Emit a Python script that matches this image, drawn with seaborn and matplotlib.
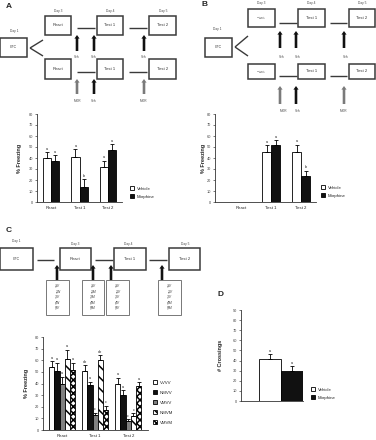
import numpy as np
import pandas as pd
import matplotlib
matplotlib.use("Agg")
import matplotlib.pyplot as plt
import seaborn as sns
from matplotlib.patches import Rectangle, FancyArrow, Patch
from matplotlib.container import BarContainer

# ---------------- data ----------------
cats = ["React", "Test 1", "Test 2"]
drugs = ["Vehicle", "Morphine"]

a_vehicle = [40, 41, 32]
a_vehicle_err = [5, 7, 5.5]
a_vehicle_sig = ["a", "a", "a"]
a_morphine = [37, 14, 47.5]
a_morphine_err = [5.5, 7, 5]
a_morphine_sig = ["a", "b", "a"]

b_vehicle = [np.nan, 45, 45.5]
b_vehicle_err = [0, 6.5, 6.5]
b_vehicle_sig = ["", "a", "a"]
b_morphine = [np.nan, 51.5, 23.5]
b_morphine_err = [0, 4.5, 5]
b_morphine_sig = ["", "a", "b"]

c_groups = ["VVVV", "NMVV", "VMVV", "NMVM", "VMVM"]
c_vvvv = [54, 51, 40]
c_nmvv = [51, 38.5, 30]
c_vmvv = [39.5, 12.5, 7.5]
c_nmvm = [61, 60.5, 12]
c_vmvm = [52, 17.5, 38]
c_vvvv_err = [5, 5, 5]
c_nmvv_err = [7, 3, 4]
c_vmvv_err = [6.5, 2.5, 2]
c_nmvm_err = [8, 4, 2.5]
c_vmvm_err = [6, 3.5, 3]
c_vvvv_sig = ["a", "ab", "a"]
c_nmvv_sig = ["a", "a", "a"]
c_vmvv_sig = ["a", "c", "c"]
c_nmvm_sig = ["a", "ab", "c"]
c_vmvm_sig = ["a", "c", "a"]

d_cats = [""]
d_vehicle = [42]
d_vehicle_err = [4.5]
d_morphine = [29.5]
d_morphine_err = [5]
d_sig = ["a"]

freeze_ticks = list(range(0, 81, 10))
cross_ticks = list(range(0, 91, 10))

# ---------------- setup ----------------
sns.set_theme(style="ticks")
plt.rcParams["font.family"] = ["Liberation Sans", "DejaVu Sans"]
plt.rcParams["hatch.linewidth"] = 1.1

W, H = 376, 440
fig = plt.figure(figsize=(W / 100, H / 100), dpi=100)
fig.patch.set_facecolor("white")

ov = fig.add_axes([0, 0, 1, 1])
ov.set_xlim(0, W)
ov.set_ylim(H, 0)
ov.axis("off")

BOXC = "#3a3a3a"
GRAY_ARROW = "#7a7a7a"


def box(x0, y0, x1, y1, text="", fs=3.0, ec=BOXC, lw=1.1):
    ov.add_patch(Rectangle((x0, y0), x1 - x0, y1 - y0, facecolor="white", edgecolor=ec, lw=lw))
    if text:
        ov.text((x0 + x1) / 2, (y0 + y1) / 2, text, ha="center", va="center", fontsize=fs,
                color="#333", linespacing=1.0)


def line(x0, y0, x1, y1, lw=1.0, color=BOXC):
    ov.plot([x0, x1], [y0, y1], color=color, lw=lw, solid_capstyle="butt")


def arrow(x, ytail, ytip, color="#111"):
    ov.add_patch(FancyArrow(x, ytail, 0, ytip - ytail, width=2.6, head_width=5.2, head_length=3.6,
                            length_includes_head=True, facecolor=color, edgecolor="none", lw=0))


def lab(x, y, s, fs=2.3, **kw):
    ov.text(x, y, s, ha="center", va="center", fontsize=fs, color="#444", **kw)


# ---------------- panel A diagram ----------------
ov.text(9, 6, "A", fontsize=6, fontweight="bold", ha="center", va="center")
lab(14, 31, "Day 1")
box(0, 38, 27, 57, "CFC", fs=2.6)
line(43, 40, 30, 48)
line(30, 48, 43, 56)
for y0, y1 in [(16, 35), (59, 79)]:
    box(45, y0, 71, y1, "React")
    box(97, y0, 123, y1, "Test 1")
    box(149, y0, 176, y1, "Test 2")
    ym = (y0 + y1) / 2 + 3
    line(77, ym, 95, ym)
    line(129, ym, 147, ym)
lab(58, 11, "Day 3")
lab(110, 11, "Day 4")
lab(163, 11, "Day 5")
for x in [77, 94, 144]:
    arrow(x, 51, 35)
    lab(x, 57, "Veh")
arrow(77, 94, 79, GRAY_ARROW)
arrow(94, 94, 79)
arrow(144, 94, 79, GRAY_ARROW)
lab(77, 101, "MOR")
lab(94, 101, "Veh")
lab(144, 101, "MOR")

# ---------------- panel B diagram ----------------
ov.text(205, 5, "B", fontsize=6, fontweight="bold", ha="center", va="center")
lab(217, 29, "Day 1")
box(205, 38, 232, 57, "CFC", fs=2.6)
line(248, 36, 235, 47)
line(235, 47, 248, 56)
for y0, y1, ly in [(9, 27, 23), (64, 79, 76)]:
    box(248, y0, 275, y1, "Without\nReact", fs=1.7)
    box(298, y0, 325, y1, "Test 1")
    box(349, y0, 375, y1, "Test 2")
    line(279, ly, 297, ly)
    line(330, ly, 347, ly)
lab(261, 3, "Day 3")
lab(311, 3, "Day 4")
lab(362, 3, "Day 5")
for x in [280, 296, 344]:
    arrow(x, 48, 31)
    lab(x + 2, 57, "Veh")
arrow(280, 104, 86, GRAY_ARROW)
arrow(296, 104, 86)
arrow(344, 104, 86, GRAY_ARROW)
lab(284, 111, "MOR")
lab(298, 111, "Veh")
lab(344, 111, "MOR")

# ---------------- panel C diagram ----------------
ov.text(9, 231, "C", fontsize=6, fontweight="bold", ha="center", va="center")
lab(16, 241, "Day 1")
box(0, 248, 33, 270, "CFC", fs=2.6)
box(60, 248, 91, 270, "React")
box(114, 248, 146, 270, "Test 1")
box(169, 248, 200, 270, "Test 2")
lab(75, 244, "Day 3")
lab(128, 244, "Day 4")
lab(185, 244, "Day 5")
line(37, 260, 54, 260)
line(95, 260, 113, 260)
line(149, 260, 167, 260)
for x in [57, 93, 111, 162]:
    arrow(x, 281, 265)
c_box_text = [
    (46, 69, ["1)V", "2)N", "3)V", "4)N", "5)V"]),
    (82, 104, ["1)V", "2)M", "3)M", "4)M", "5)M"]),
    (106, 129, ["1)V", "2)V", "3)V", "4)V", "5)V"]),
    (158, 181, ["1)V", "2)V", "3)V", "4)M", "5)M"]),
]
for x0, x1, lines in c_box_text:
    box(x0, 280, x1, 315, ec="#777", lw=0.7)
    for i, s in enumerate(lines):
        ov.text((x0 + x1) / 2, 286 + i * 5.6, s, ha="center", va="center", fontsize=2.3,
                color="#333", style="italic")

ov.text(221, 294, "D", fontsize=6, fontweight="bold", ha="center", va="center")


# ---------------- bar charts ----------------
def px_axes(left, right, top, bottom):
    ax = fig.add_axes([left / W, 1 - bottom / H, (right - left) / W, (bottom - top) / H])
    ax.set_facecolor("none")
    return ax


def bar_panel(ax, categories, groups, values, errs, sigs, colors, hatches, width, xlim, ylim,
              yticks, ylabel, ylabel_x, cat_fs=3.1, sig_fs=2.7):
    rows = []
    for g, vals in zip(groups, values):
        for c, v in zip(categories, vals):
            rows.append({"cat": c, "grp": g, "val": v})
    df = pd.DataFrame(rows)
    pal = dict(zip(groups, colors))
    sns.barplot(data=df, x="cat", y="val", hue="grp", order=categories, hue_order=groups,
                palette=pal, saturation=1, width=width, edgecolor="black", linewidth=0.6,
                errorbar=None, legend=False, ax=ax)
    bar_conts = [c for c in ax.containers if isinstance(c, BarContainer)]
    for hi, cont in enumerate(bar_conts):
        for bar in cont.patches:
            if bar is None:
                continue
            h = bar.get_height()
            if h is None or np.isnan(h):
                continue
            if hatches[hi]:
                bar.set_hatch(hatches[hi])
            cx = bar.get_x() + bar.get_width() / 2
            ci = int(round(cx))
            e = errs[hi][ci]
            ax.errorbar(cx, h, yerr=[[0], [e]], fmt="none", ecolor="black", elinewidth=0.6,
                        capsize=1.4, capthick=0.6)
            ax.text(cx, h + e + 1.2, sigs[hi][ci], ha="center", va="bottom", fontsize=sig_fs,
                    color="#222")
    ax.set_xlim(*xlim)
    ax.set_ylim(*ylim)
    ax.set_yticks(yticks)
    ax.set_xlabel("")
    ax.set_ylabel(ylabel, fontsize=4.0, fontweight="bold", labelpad=0)
    ax.yaxis.set_label_coords(ylabel_x, 0.5)
    for s in ["top", "right"]:
        ax.spines[s].set_visible(False)
    for s in ["left", "bottom"]:
        ax.spines[s].set_linewidth(0.6)
        ax.spines[s].set_color("#333")
    ax.tick_params(axis="y", labelsize=2.8, length=1.8, width=0.5, pad=1.2, colors="#444")
    ax.tick_params(axis="x", labelsize=cat_fs, length=0, pad=3, colors="#222")


def add_legend(labels, colors, hatches, x, y, spacing):
    handles = [Patch(facecolor=c, edgecolor="black", linewidth=0.6, hatch=h)
               for c, h in zip(colors, hatches)]
    fig.legend(handles, labels, loc="upper left", bbox_to_anchor=(x / W, 1 - y / H),
               bbox_transform=fig.transFigure, frameon=False, fontsize=3.2, handlelength=1.0,
               handleheight=1.0, handletextpad=0.5, labelspacing=spacing, borderpad=0,
               borderaxespad=0)


vm_colors = ["white", "#111111"]
vm_hatch = [None, None]

axA = px_axes(37, 122, 114, 202)
bar_panel(axA, cats, drugs, [a_vehicle, a_morphine], [a_vehicle_err, a_morphine_err],
          [a_vehicle_sig, a_morphine_sig], vm_colors, vm_hatch, 0.57, (-0.5, 2.5), (0, 80),
          freeze_ticks, "% Freezing", -0.18)
add_legend(drugs, vm_colors, vm_hatch, 130, 186, 0.85)

axB = px_axes(215, 316, 114, 202)
bar_panel(axB, cats, drugs, [b_vehicle, b_morphine], [b_vehicle_err, b_morphine_err],
          [b_vehicle_sig, b_morphine_sig], vm_colors, vm_hatch, 0.6, (-0.87, 2.5), (0, 80),
          freeze_ticks, "% Freezing", -0.09)
add_legend(drugs, vm_colors, vm_hatch, 321, 185, 0.85)

c_colors = ["white", "#111111", "#808080", "white", "white"]
c_hatches = [None, None, None, "\\\\\\", "xxxxx"]
axC = px_axes(43, 148, 337, 430)
bar_panel(axC, cats, c_groups, [c_vvvv, c_nmvv, c_vmvv, c_nmvm, c_vmvm],
          [c_vvvv_err, c_nmvv_err, c_vmvv_err, c_nmvm_err, c_vmvm_err],
          [c_vvvv_sig, c_nmvv_sig, c_vmvv_sig, c_nmvm_sig, c_vmvm_sig],
          c_colors, c_hatches, 0.8, (-0.58, 2.6), (0, 80), freeze_ticks, "% Freezing", -0.13)
add_legend(c_groups, c_colors, c_hatches, 153, 380, 1.25)

axD = px_axes(241, 303, 310, 401)
bar_panel(axD, d_cats, drugs, [d_vehicle, d_morphine], [d_vehicle_err, d_morphine_err],
          [d_sig, d_sig], vm_colors, vm_hatch, 0.8, (-0.73, 0.4), (0, 90), cross_ticks,
          "# Crossings", -0.29)
add_legend(drugs, vm_colors, vm_hatch, 311, 387, 0.85)

fig.savefig("out.png", dpi=100)
